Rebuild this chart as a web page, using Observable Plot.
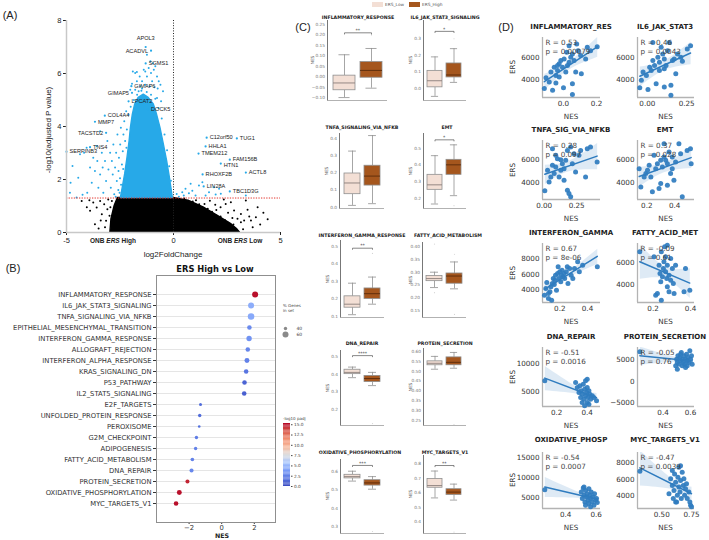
<!DOCTYPE html>
<html>
<head>
<meta charset="utf-8">
<script src="https://cdn.jsdelivr.net/npm/d3@7"></script>
<script src="https://cdn.jsdelivr.net/npm/@observablehq/plot@0.6"></script>
<style>
  html, body { margin: 0; padding: 0; background: #fff; }
  #fig { position: relative; width: 709px; height: 540px; overflow: hidden; background: #fff; font-family: "DejaVu Sans", sans-serif; }
  #fig svg { overflow: visible; }
  .lbl { position: absolute; white-space: nowrap; line-height: 1; }
</style>
</head>
<body>
<div id="fig"></div>
<script>
// ===================== (A) Volcano: ONB ERS High vs Low =====================
const padjCutoff = 0.05;
// upper edge of the dense significant (blue) cloud: [log2FC, -log10 padj]
const sigCoreTop = [[-2.46,1.3],[-2.37,1.69],[-2.26,2.19],[-2.15,2.82],[-2.05,3.45],[-1.99,3.95],[-1.90,4.45],[-1.79,4.83],[-1.63,5.08],[-1.39,5.2],[-1.16,5.08],[-0.92,4.83],[-0.77,4.45],[-0.61,3.95],[-0.45,3.32],[-0.30,2.70],[-0.17,2.07],[-0.08,1.57],[-0.03,1.3]];
// upper edge of the dense non-significant (black) cloud
const nsCoreTop = [[-2.95,0],[-2.9,0.5],[-2.75,1.0],[-2.6,1.3],[0,1.3],[0.7,1.2],[1.4,0.95],[2.05,0.64],[2.68,0.33],[3.0,0.1],[3.1,0]];
const sigScatter = [[-1.90,6.08],[-1.79,6.02],[-1.71,6.06],[-1.58,5.89],[-1.39,6.14],[-1.32,6.08],[-1.24,5.89],[-1.16,6.21],[-1.05,6.02],[-0.92,6.14],[-0.85,6.27],[-0.77,5.89],[-0.69,5.71],[-0.61,5.58],[-0.49,5.33],[-1.00,5.71],[-1.47,5.71],[-1.32,5.58],[-1.11,5.52],[-0.89,5.48],[-0.74,5.43],[-1.71,5.71],[-1.55,5.52],[-1.79,5.39],[-1.94,5.61],[-1.08,6.46],[-0.96,6.39],[-1.24,6.71],[-0.77,5.08],[-0.58,4.95],[-2.02,5.39],[-1.63,5.33],[-1.47,5.43],
  [-4.84,1.50],[-4.81,1.88],[-4.72,2.51],[-4.45,2.07],[-4.37,2.95],[-4.18,3.01],[-4.06,3.20],[-3.90,2.45],[-3.82,1.88],[-3.75,2.82],[-3.67,2.32],[-3.59,3.26],[-3.56,2.70],[-3.51,1.69],[-3.43,2.19],[-3.35,3.01],[-3.31,2.45],[-3.28,1.50],[-3.20,2.70],[-3.15,1.94],[-3.09,3.45],[-3.04,2.38],[-2.96,3.01],[-2.93,1.69],[-2.88,2.70],[-2.84,2.19],[-2.81,3.32],[-2.77,1.44],[-2.73,2.45],[-2.68,3.01],[-2.65,1.94],[-2.62,3.70],[-2.57,2.32],[-2.55,2.82],[-2.52,1.50],[-2.49,3.32],[-2.46,3.95],[-2.41,2.57],[-2.37,3.07],[-2.34,3.70],[-2.30,4.20],[-2.26,3.45],[-2.21,4.58],[-2.18,3.89],[-2.10,4.45],[-3.43,3.82],[-4.03,1.50],[-4.53,1.32],[-4.25,1.42],[-2.58,1.6],[-2.7,1.35],[-2.5,2.05],
  [-2.0,4.75],[-1.85,5.0],[-1.7,5.2],[-1.5,5.35],[-1.25,5.3],[-1.05,5.2],[-0.85,5.05],[-0.7,4.7],[-0.55,4.3],[-0.42,3.7],[-0.3,3.1],[-0.2,2.5],[-0.12,1.95],[-2.2,3.2],[-2.35,2.4],[-2.45,1.8],
  [0.41,1.52],[0.56,1.65],[0.72,1.48],[0.80,1.84],[0.88,1.58],[1.03,1.40],[1.19,1.77],[1.35,1.90],[1.66,1.52],[1.89,1.71],[2.13,1.65],[2.21,1.46],[1.97,1.43],[0.48,1.40],[1.50,1.40],[3.38,1.40],[0.25,1.35],[0.15,1.45]];
const nsScatter = [[-4.29,1.19],[-3.93,1.22],[-3.75,1.13],[-3.59,0.94],[-3.43,1.19],[-3.35,0.69],[-3.24,1.07],[-3.15,0.44],[-3.09,0.88],[-2.99,0.63],[-2.88,1.19],[-2.81,0.19],[-2.73,0.94],[-2.68,0.44],[-2.62,1.22],[-3.90,0.82],[-3.67,0.31],[-4.05,0.95],[-3.5,0.15],[-3.2,0.2],[-3.05,1.25],[-2.95,0.95],[-3.4,0.45],
  [2.83,0.83],[2.99,0.52],[3.15,0.70],[3.30,0.45],[3.46,0.86],[3.54,0.60],[3.38,1.21],[2.68,1.14],[2.44,1.08],[3.62,0.45],[3.15,0.39],[2.52,0.39],[3.85,0.58],[3.93,0.95],[4.2,0.75],[4.05,0.3],[3.7,0.2],[2.9,0.15],[3.25,0.12],[2.2,0.95],[2.55,0.75],[1.95,1.05],[1.7,1.2],[2.35,1.25],[4.4,0.5],[2.75,0.55],
  [0.5,1.28],[0.9,1.17],[1.2,1.07],[1.6,0.9],[1.8,0.78],[2.2,0.6],[2.4,0.47],[2.8,0.3],[1.05,1.22],[1.45,1.08],[2.0,0.85]];
// labelled genes: [gene, log2FC, -log10 padj]
const genesLabelRight = [["SERPINB3",-5.0,3.05],["TNS4",-3.90,3.22],["MMP7",-3.67,4.18],["COL4A4",-3.21,4.41],["LPCAT2",-2.10,4.95],["GIMAP6",-1.97,5.52],["DOCK5",-1.19,4.64],["SGMS1",-1.30,6.38],
  ["C12orf50",1.55,3.58],["TUG1",2.96,3.55],["HHLA1",1.5,3.25],["TMEM212",1.17,2.98],["FAM156B",2.63,2.75],["ACTL8",3.38,2.26],["RHOXF2B",1.36,2.19],["LIN28A",1.41,1.74],["TBC1D3G",2.63,1.55]];
const genesLabelRightLow = [["HTN1",2.21,2.60]];
const genesLabelLeft = [["ACADVL",-1.05,6.86],["GIMAP5",-1.94,5.27],["TACSTD2",-3.15,3.76]];
const genesLabelAbove = [["APOL3",-1.3,7.0]];

// ===================== (B) GSEA hallmark dot plot =====================
const hallmarkSets = ["INFLAMMATORY_RESPONSE","IL6_JAK_STAT3_SIGNALING","TNFA_SIGNALING_VIA_NFKB","EPITHELIAL_MESENCHYMAL_TRANSITION","INTERFERON_GAMMA_RESPONSE","ALLOGRAFT_REJECTION","INTERFERON_ALPHA_RESPONSE","KRAS_SIGNALING_DN","P53_PATHWAY","IL2_STAT5_SIGNALING","E2F_TARGETS","UNFOLDED_PROTEIN_RESPONSE","PEROXISOME","G2M_CHECKPOINT","ADIPOGENESIS","FATTY_ACID_METABOLISM","DNA_REPAIR","PROTEIN_SECRETION","OXIDATIVE_PHOSPHORYLATION","MYC_TARGETS_V1"];
const hallmarkNES = [2.05,1.8,1.8,1.7,1.68,1.6,1.55,1.5,1.4,1.38,-1.3,-1.35,-1.38,-1.55,-1.6,-1.8,-1.85,-2.1,-2.6,-2.8];
const hallmarkLogPadj = [15.0,4.6,4.4,3.0,3.4,2.8,2.6,2.0,1.2,1.0,1.6,1.6,1.8,2.4,2.6,2.6,2.9,14.5,15.0,15.0];
const hallmarkGenePct = [60,60,64,49,55,49,52,49,49,49,37,40,34,40,40,42,45,45,52,49];
const sizeLegendKeys = [40, 60];
const colorbarTicks = [0, 2.5, 5, 7.5, 10, 12.5, 15];

// ===================== (C) NES by ERS group =====================
const boxGroups = ["ERS_Low", "ERS_High"];
const boxSets = ["INFLAMMATORY_RESPONSE","IL6_JAK_STAT3_SIGNALING","TNFA_SIGNALING_VIA_NFKB","EMT","INTERFERON_GAMMA_RESPONSE","FATTY_ACID_METABOLISM","DNA_REPAIR","PROTEIN_SECRETION","OXIDATIVE_PHOSPHORYLATION","MYC_TARGETS_V1"];
// [min whisker, Q1, median, Q3, max whisker]
const boxLow = [[-0.10,-0.065,-0.03,0.005,0.105],[-0.05,0.005,0.045,0.105,0.19],[0.01,0.075,0.14,0.195,0.325],[0.165,0.25,0.28,0.34,0.455],[0.11,0.15,0.17,0.215,0.29],[0.24,0.265,0.275,0.285,0.30],[0.38,0.40,0.41,0.425,0.44],[0.51,0.53,0.54,0.55,0.575],[0.55,0.565,0.575,0.585,0.605],[0.565,0.635,0.65,0.695,0.75]];
const boxHigh = [[-0.055,-0.005,0.03,0.07,0.135],[0.035,0.065,0.08,0.15,0.24],[0.02,0.125,0.18,0.24,0.415],[0.215,0.34,0.40,0.43,0.52],[0.17,0.2,0.23,0.26,0.325],[0.235,0.255,0.285,0.295,0.34],[0.335,0.355,0.375,0.39,0.41],[0.515,0.53,0.545,0.57,0.595],[0.505,0.525,0.54,0.555,0.575],[0.55,0.585,0.605,0.625,0.66]];
const boxOutliersLow = [[],[],[],[],[],[0.41,0.22],[],[],[],[]];
const boxOutliersHigh = [[0.20],[0.30],[],[0.155],[0.46],[0.37,0.135],[0.12],[0.23],[0.27],[0.33]];
const boxSignif = ["**","*","","*","**","","****","","***","**"];
const boxSignifAt = [0.21,0.345,null,0.55,0.49,null,0.505,null,0.637,0.788];
const boxTicks = [[-0.10,-0.05,0,0.05,0.10,0.15,0.20,0.25],[0,0.1,0.2,0.3],[0,0.1,0.2,0.3,0.4],[0.2,0.3,0.4,0.5],[0.1,0.2,0.3,0.4,0.5],[0.15,0.20,0.25,0.30,0.35,0.40],[0.2,0.3,0.4,0.5],[0.25,0.30,0.35,0.40,0.45,0.50,0.55,0.60],[0.3,0.4,0.5,0.6],[0.4,0.5,0.6,0.7,0.8]];

// ===================== (D) ERS score vs NES =====================
const corrTitles = ["INFLAMMATORY_RES","IL6_JAK_STAT3","TNFA_SIG_VIA_NFKB","EMT","INTERFERON_GAMMA","FATTY_ACID_MET","DNA_REPAIR","PROTEIN_SECRETION","OXIDATIVE_PHOSP","MYC_TARGETS_V1"];
const corrR = ["0.53","0.46","0.28","0.37","0.67","-0.09","-0.51","-0.05","-0.54","-0.47"];
const corrP = ["0.00079","0.0043","0.097","0.028","8e-06","0.61","0.0016","0.76","0.0007","0.0039"];
// [NES, ERS]
const ersInflammatory = [[-0.116,3206],[-0.106,4176],[-0.086,3794],[-0.066,3059],[-0.046,3706],[-0.076,4676],[-0.056,5118],[-0.036,4824],[-0.026,5412],[-0.016,5706],[0.004,5853],[-0.006,5118],[0.014,4676],[0.0,3294],[0.024,5265],[0.034,5559],[0.044,6000],[0.054,6294],[0.064,5706],[0.054,3647],[0.054,2676],[0.08,7176],[0.088,6588],[0.104,6147],[0.074,4676],[0.108,4529],[0.134,5853],[0.144,6882],[0.164,6588],[0.204,6941],[-0.046,4382],[-0.026,4235],[0.02,6441],[0.034,7029],[-0.036,5265]];
const ersIL6 = [[-0.048,3294],[-0.038,3941],[-0.027,4676],[-0.006,4382],[0.004,3118],[0.015,5118],[0.025,4824],[0.035,5706],[0.046,5265],[0.056,3647],[0.067,6000],[0.077,5559],[0.077,4824],[0.088,6882],[0.098,6294],[0.108,5853],[0.108,4971],[0.119,5265],[0.129,6588],[0.140,7324],[0.150,3500],[0.160,5706],[0.171,5853],[0.181,4529],[0.192,6294],[0.213,6000],[0.223,5647],[0.254,6735],[0.275,7029],[0.150,2618],[0.035,7324],[0.108,3353]];
const ersTNFA = [[0.005,3235],[0.026,5059],[0.038,4029],[0.051,4471],[0.064,5500],[0.077,4765],[0.089,5353],[0.102,6088],[0.115,4471],[0.128,5059],[0.140,5647],[0.153,5206],[0.166,5941],[0.179,3294],[0.191,3000],[0.204,2706],[0.179,6824],[0.204,7118],[0.230,6529],[0.217,5647],[0.242,4912],[0.268,6382],[0.281,6824],[0.319,4471],[0.332,6971],[0.357,7118],[0.408,5794],[0.089,6382],[0.064,6971],[0.128,6000],[0.153,4176]];
const ersEMT = [[0.145,5206],[0.157,3588],[0.181,4471],[0.193,4765],[0.205,5059],[0.217,5500],[0.229,4471],[0.240,3147],[0.252,6382],[0.264,5206],[0.276,5647],[0.288,3441],[0.300,5941],[0.300,3882],[0.312,5353],[0.324,6235],[0.336,5941],[0.348,5647],[0.360,6676],[0.371,4765],[0.383,5206],[0.395,4176],[0.407,5794],[0.431,7412],[0.443,6529],[0.455,2706],[0.490,6824],[0.514,6971],[0.519,5647],[0.324,7412],[0.348,3735],[0.383,6235]];
const ersIFNG = [[0.089,3368],[0.099,4211],[0.106,4968],[0.118,2947],[0.129,3789],[0.136,4421],[0.146,4842],[0.153,5474],[0.160,4716],[0.165,5263],[0.169,5895],[0.176,4000],[0.184,6105],[0.188,6947],[0.193,5474],[0.200,6316],[0.207,5053],[0.212,5895],[0.216,6526],[0.224,5684],[0.231,6105],[0.235,5474],[0.247,6316],[0.254,6947],[0.259,4842],[0.271,6737],[0.282,5895],[0.294,5474],[0.306,6737],[0.329,7579],[0.341,6316],[0.365,7158],[0.471,6947],[0.118,3579],[0.141,2737]];
const ersFAO = [[0.129,6941],[0.205,6500],[0.214,3118],[0.223,3265],[0.232,5765],[0.237,5029],[0.241,4294],[0.244,2676],[0.250,4735],[0.255,5471],[0.258,6059],[0.262,7382],[0.267,6500],[0.267,5176],[0.273,4588],[0.276,5765],[0.276,3853],[0.285,4882],[0.285,3412],[0.294,6353],[0.294,4441],[0.303,5471],[0.308,4147],[0.312,3265],[0.320,5765],[0.365,3412],[0.373,5471],[0.396,3559],[0.244,6941],[0.276,7529]];
const ersDNA = [[0.122,6988],[0.324,6687],[0.335,5783],[0.346,4880],[0.352,6084],[0.357,3976],[0.361,5181],[0.367,4578],[0.374,6386],[0.378,3675],[0.383,5482],[0.389,6988],[0.389,4277],[0.396,4880],[0.400,3072],[0.400,5783],[0.404,3976],[0.411,5181],[0.411,2771],[0.417,4578],[0.422,3675],[0.433,4277],[0.443,3976],[0.461,3373],[0.400,7289],[0.367,3072],[0.383,2470]];
const ersProtSec = [[0.231,6969],[0.492,3662],[0.499,5236],[0.504,4449],[0.508,6023],[0.516,4056],[0.523,5630],[0.528,4843],[0.533,6811],[0.540,3662],[0.540,5236],[0.547,4449],[0.552,6023],[0.557,4056],[0.564,5236],[0.564,3268],[0.571,6417],[0.576,4843],[0.581,5630],[0.588,4449],[0.595,7204],[0.600,5236],[0.607,6023],[0.612,4056],[0.504,2875],[0.528,6417],[0.576,3662]];
const ersOxphos = [[0.263,7000],[0.502,6417],[0.509,4750],[0.515,7417],[0.520,5583],[0.526,3917],[0.530,6833],[0.537,5167],[0.541,6000],[0.546,4333],[0.552,7250],[0.552,3500],[0.559,5583],[0.563,4750],[0.567,6417],[0.574,3917],[0.580,5167],[0.585,3083],[0.589,6000],[0.596,4333],[0.602,4750],[0.607,3750],[0.530,3083],[0.563,2667],[0.520,7667]];
const ersMYC = [[0.317,7000],[0.561,4280],[0.575,6080],[0.589,5280],[0.597,3680],[0.603,4680],[0.608,6680],[0.617,5680],[0.625,3280],[0.631,4080],[0.636,6280],[0.644,5080],[0.644,7480],[0.653,4480],[0.658,5880],[0.664,3680],[0.672,6880],[0.681,5280],[0.686,6080],[0.692,4080],[0.700,4880],[0.708,5480],[0.714,3680],[0.728,4480],[0.736,3280],[0.742,2880],[0.750,2680],[0.617,3280],[0.589,7080],[0.658,7680]];
const corrYTicks = [[4000,6000],[4000,6000],[4000,6000],[4000,6000],[4000,6000,8000],[4000,6000],[5000,10000],[-5000,0,5000],[5000,10000,15000],[4000,6000,8000]];
const corrXTicks = [[0,0.2],[0,0.25],[0,0.25],[0.2,0.4],[0.2,0.4],[0.2,0.4],[0.2,0.4],[0.4,0.6],[0.4,0.6],[0.5,0.75]];

// ---------------------------------------------------------------------------
const fig = document.getElementById("fig");
function place(node, left, top) {
  node.style.position = "absolute";
  node.style.left = `${left}px`;
  node.style.top = `${top}px`;
  fig.appendChild(node);
}
function label(html, x, y, font, opts = {}) {
  const d = document.createElement("div");
  d.className = "lbl";
  d.innerHTML = html;
  d.style.font = font;
  d.style.color = opts.color || "#222";
  d.style.left = `${x}px`;
  d.style.top = `${y}px`;
  const ax = opts.anchor === "start" ? "0" : opts.anchor === "end" ? "-100%" : "-50%";
  d.style.transform = `translate(${ax},-50%)` + (opts.rotate ? " rotate(-90deg)" : "");
  fig.appendChild(d);
}
const ARIAL = "'Liberation Sans', Arial, sans-serif";
const DJV = "'DejaVu Sans', sans-serif";

// ---------- (A) ----------
const sigBlue = "#27a9e8";
const cut = -Math.log10(padjCutoff);
const geneText = {text: d => d[0], fontSize: 5.6, fill: "#222"};
const volcano = Plot.plot({
  width: 290, height: 262,
  marginLeft: 66, marginRight: 10, marginTop: 20, marginBottom: 30,
  style: {fontFamily: ARIAL, fontSize: "7.5px", color: "#222", background: "transparent", overflow: "visible"},
  x: {domain: [-5, 5], ticks: [-5, 0, 5], tickFormat: d => String(d), tickSize: 3, tickPadding: 2, label: null},
  y: {domain: [0, 8], ticks: [0, 2, 4, 6, 8], tickFormat: d => String(d), tickSize: 3, tickPadding: 2, label: null},
  marks: [
    Plot.areaY(nsCoreTop, {x: d => d[0], y1: 0, y2: d => d[1], fill: "#000", stroke: "#000", strokeWidth: 1.4}),
    Plot.areaY(sigCoreTop, {x: d => d[0], y1: cut, y2: d => d[1], fill: sigBlue, stroke: sigBlue, strokeWidth: 1.4}),
    Plot.dot(nsScatter, {x: d => d[0], y: d => d[1], r: 1, fill: "#000"}),
    Plot.dot(sigScatter, {x: d => d[0], y: d => d[1], r: 1, fill: sigBlue}),
    Plot.dot([...genesLabelRight, ...genesLabelRightLow, ...genesLabelLeft, ...genesLabelAbove], {x: d => d[1], y: d => d[2], r: 1.1, fill: sigBlue}),
    Plot.ruleX([0], {stroke: "#222", strokeDasharray: "1,1.6"}),
    Plot.ruleY([cut], {stroke: "#e2332b", strokeDasharray: "1.3,1.3"}),
    Plot.ruleX([-5], {stroke: "#c8c8c8", strokeWidth: 1.5}),
    Plot.ruleY([0], {stroke: "#c8c8c8", strokeWidth: 1.5}),
    Plot.text(genesLabelRight, {x: d => d[1], y: d => d[2], ...geneText, dx: 3, textAnchor: "start"}),
    Plot.text(genesLabelRightLow, {x: d => d[1], y: d => d[2], ...geneText, dx: 3, dy: 2, textAnchor: "start"}),
    Plot.text(genesLabelLeft, {x: d => d[1], y: d => d[2], ...geneText, dx: -3, textAnchor: "end"}),
    Plot.text(genesLabelAbove, {x: d => d[1], y: d => d[2], ...geneText, dy: -9})
  ]
});
place(volcano, 0, 0);
label("(A)", 10, 15, `11px ${ARIAL}`);
label("-log10(adjusted P value)", 48, 130, `8px ${ARIAL}`, {rotate: true});
label("log2FoldChange", 173, 254, `8px ${ARIAL}`);
label("<b>ONB <i>ERS</i> High</b>", 113, 240, `6.5px ${ARIAL}`);
label("<b>ONB <i>ERS</i> Low</b>", 240, 240, `6.5px ${ARIAL}`);

// ---------- (B) ----------
const hallmarkRows = hallmarkSets.map((name, i) => ({name, nes: hallmarkNES[i], logp: hallmarkLogPadj[i], pct: hallmarkGenePct[i]}));
const coolwarm = ["#3b4cc0","#5673e0","#799cf8","#aac7fd","#dddcdc","#f7b89c","#f18d6f","#d65244","#b40426"];
const padjMax = 15.3;
const colorScale = {type: "linear", domain: coolwarm.map((_, k) => k / (coolwarm.length - 1) * padjMax), range: coolwarm, clamp: true};
const sizeScale = {type: "linear", domain: [40, 60], range: [1.7, 3.0]};
const dotplot = Plot.plot({
  width: 290, height: 278,
  marginLeft: 156, marginRight: 15, marginTop: 13, marginBottom: 18,
  style: {fontFamily: DJV, fontSize: "6.8px", color: "#333", background: "transparent", overflow: "visible"},
  x: {domain: [-4, 3.3], ticks: [-2, 0, 2], tickFormat: d3.format("d"), tickSize: 2, tickPadding: 1, label: null},
  y: {type: "point", domain: hallmarkSets, padding: 1, tickSize: 3, tickPadding: 2, label: null},
  r: sizeScale,
  color: colorScale,
  marks: [
    Plot.ruleY(hallmarkSets, {stroke: "#dedede", strokeWidth: 0.8}),
    Plot.frame({stroke: "#8f8f8f"}),
    Plot.dot(hallmarkRows, {x: "nes", y: "name", r: "pct", fill: "logp"})
  ]
});
place(dotplot, 0, 262);
label("(B)", 13, 268, `11px ${ARIAL}`);
label("<b>ERS High vs Low</b>", 215, 269, `8.3px ${DJV}`, {color: "#111"});
label("<b>NES</b>", 222, 535.2, `6.3px ${DJV}`);

// size legend
label("% Genes", 283, 305, `4px ${DJV}`, {anchor: "start", color: "#444"});
label("in set", 283, 310, `4px ${DJV}`, {anchor: "start", color: "#444"});
const sizeLegend = Plot.plot({
  width: 30, height: 25, marginLeft: 5, marginRight: 5, marginTop: 6, marginBottom: 6,
  style: {fontFamily: DJV, fontSize: "4.5px", color: "#444", background: "transparent", overflow: "visible"},
  x: {domain: [0, 1], axis: null},
  y: {type: "point", domain: sizeLegendKeys, axis: null},
  r: sizeScale,
  marks: [
    Plot.dot(sizeLegendKeys, {x: 0, y: d => d, r: d => d, fill: "#8a8a8a"}),
    Plot.text(sizeLegendKeys, {x: 0, y: d => d, text: d => String(d), dx: 11, textAnchor: "start", fill: "#444"})
  ]
});
place(sizeLegend, 280, 318);

// colour bar
const barSteps = d3.range(0, padjMax, 0.3).map(v => [v, Math.min(v + 0.3, padjMax)]);
const colorbar = Plot.plot({
  width: 32, height: 76, marginLeft: 5, marginRight: 20, marginTop: 8, marginBottom: 5,
  style: {fontFamily: DJV, fontSize: "4.3px", color: "#444", background: "transparent", overflow: "visible"},
  x: {domain: [0, 1], axis: null},
  y: {domain: [0, padjMax], axis: "right", ticks: colorbarTicks, tickFormat: d3.format(".1f"), tickSize: 1.5, tickPadding: 2, label: null},
  color: colorScale,
  marks: [
    Plot.rect(barSteps, {x1: 0, x2: 1, y1: d => d[0], y2: d => d[1], fill: d => (d[0] + d[1]) / 2})
  ]
});
place(colorbar, 278, 415);
label("-log10 padj", 283, 418, `4px ${DJV}`, {anchor: "start", color: "#444"});

// ---------- (C) ----------
const boxFill = {ERS_Low: "#f3dfd5", ERS_High: "#a5561d"};
const boxLine = "#8f8f8f";
const layoutC = [
  {left: 327, right: 387, top: 20, bottom: 100, domain: [-0.114, 0.269], fmt: ".2f", tx: 358, ty: 17, nx: 312},
  {left: 423, right: 466, top: 20, bottom: 100, domain: [-0.075, 0.411], fmt: ".1f", tx: 445, ty: 17, nx: 410},
  {left: 339, right: 384, top: 133, bottom: 208, domain: [-0.008, 0.427], fmt: ".1f", tx: 362, ty: 127, nx: 326},
  {left: 423, right: 466, top: 133, bottom: 208, domain: [0.138, 0.588], fmt: ".1f", tx: 447, ty: 127, nx: 410},
  {left: 340, right: 384, top: 240, bottom: 317, domain: [0.094, 0.534], fmt: ".1f", tx: 362, ty: 235, nx: 327},
  {left: 422, right: 466, top: 242, bottom: 317, domain: [0.123, 0.416], fmt: ".2f", tx: 448, ty: 235, nx: 410},
  {left: 340, right: 384, top: 350, bottom: 425, domain: [0.109, 0.534], fmt: ".1f", tx: 362, ty: 343, nx: 327},
  {left: 423, right: 466, top: 348, bottom: 425, domain: [0.225, 0.615], fmt: ".2f", tx: 445, ty: 343, nx: 410},
  {left: 340, right: 384, top: 459, bottom: 533, domain: [0.259, 0.67], fmt: ".1f", tx: 360, ty: 452, nx: 327},
  {left: 423, right: 466, top: 455, bottom: 533, domain: [0.32, 0.857], fmt: ".1f", tx: 445, ty: 452, nx: 410}
];
boxSets.forEach((name, i) => {
  const L = layoutC[i];
  const stats = [{g: "ERS_Low", s: boxLow[i]}, {g: "ERS_High", s: boxHigh[i]}];
  const outl = [...boxOutliersLow[i].map(v => ({g: "ERS_Low", v})), ...boxOutliersHigh[i].map(v => ({g: "ERS_High", v}))];
  const mL = 22, mR = 2, mT = 2, mB = 2;
  const innerW = L.right - L.left;
  const step = innerW / (2 - 0.2 + 2 * 0.2);
  const span = L.domain[1] - L.domain[0];
  const marks = [
    Plot.ruleY([L.domain[0]], {stroke: "#a9a9a9", strokeWidth: 0.9}),
    Plot.ruleX(stats, {x: "g", y1: d => d.s[0], y2: d => d.s[1], stroke: boxLine, strokeWidth: 0.8}),
    Plot.ruleX(stats, {x: "g", y1: d => d.s[3], y2: d => d.s[4], stroke: boxLine, strokeWidth: 0.8}),
    Plot.tickY(stats, {x: "g", y: d => d.s[0], stroke: boxLine, strokeWidth: 0.8, insetLeft: step * 0.2, insetRight: step * 0.2}),
    Plot.tickY(stats, {x: "g", y: d => d.s[4], stroke: boxLine, strokeWidth: 0.8, insetLeft: step * 0.2, insetRight: step * 0.2}),
    Plot.barY(stats, {x: "g", y1: d => d.s[1], y2: d => d.s[3], fill: d => boxFill[d.g], stroke: boxLine, strokeWidth: 0.8}),
    Plot.tickY(stats, {x: "g", y: d => d.s[2], stroke: d => d.g === "ERS_High" ? "#5a2a0a" : "#8a7e7a", strokeWidth: 0.9}),
    Plot.dot(outl, {x: "g", y: "v", r: 0.6, fill: "#d4d4d4"})
  ];
  if (boxSignif[i]) {
    const at = boxSignifAt[i], drop = span * 0.015;
    marks.push(
      Plot.line([{g: "ERS_Low", y: at - drop}, {g: "ERS_Low", y: at}, {g: "ERS_High", y: at}, {g: "ERS_High", y: at - drop}],
        {x: "g", y: "y", stroke: "#555", strokeWidth: 0.7}),
      Plot.text([{g: "ERS_High", y: at, t: boxSignif[i]}],
        {x: "g", y: "y", text: "t", dx: -step / 2, dy: -0.8, lineAnchor: "bottom", fontSize: 4.6, fill: "#333"})
    );
  }
  const svg = Plot.plot({
    width: innerW + mL + mR, height: L.bottom - L.top + mT + mB,
    marginLeft: mL, marginRight: mR, marginTop: mT, marginBottom: mB,
    style: {fontFamily: DJV, fontSize: "4.3px", color: "#777", background: "transparent", overflow: "visible"},
    color: {type: "identity"},
    x: {type: "band", domain: boxGroups, paddingInner: 0.2, paddingOuter: 0.2, axis: null},
    y: {domain: L.domain, ticks: boxTicks[i], tickFormat: d3.format(L.fmt), tickSize: 0, tickPadding: 2.5, line: true, label: null},
    marks
  });
  place(svg, L.left - mL, L.top - mT);
  label(`<b>${name}</b>`, L.tx, L.ty, `4.7px ${DJV}`, {color: "#222"});
  label("NES", L.nx, (L.top + L.bottom) / 2, `4.3px ${DJV}`, {rotate: true, color: "#555"});
});
label("(C)", 303, 27, `11px ${ARIAL}`);
// group legend
const legendC = [["ERS_Low", 372], ["ERS_High", 409]];
legendC.forEach(([g, x]) => {
  const sw = document.createElement("div");
  Object.assign(sw.style, {position: "absolute", left: `${x}px`, top: "1.5px", width: "11px", height: "5px", background: boxFill[g]});
  fig.appendChild(sw);
  label(g, x + 13, 4.2, `4.3px ${DJV}`, {anchor: "start", color: "#555"});
});

// ---------- (D) ----------
const corrSets = [ersInflammatory, ersIL6, ersTNFA, ersEMT, ersIFNG, ersFAO, ersDNA, ersProtSec, ersOxphos, ersMYC];
const colL = {left: 542, right: 600, cx: 571}, colR = {left: 637, right: 694, cx: 665};
const rowsD = [{top: 37, bottom: 97, ty: 27}, {top: 140, bottom: 199, ty: 130}, {top: 243, bottom: 302, ty: 233}, {top: 347, bottom: 406, ty: 337}, {top: 452, bottom: 508, ty: 440}];
const domainsD = [
  {x: [-0.127, 0.224], y: [2415, 7760], xf: ".1f"},
  {x: [-0.0625, 0.30], y: [2415, 7760], xf: ".2f"},
  {x: [-0.013, 0.434], y: [2470, 7700], xf: ".2f"},
  {x: [0.133, 0.543], y: [2470, 7700], xf: ".1f"},
  {x: [0.075, 0.494], y: [2442, 9895], xf: ".1f"},
  {x: [0.117, 0.421], y: [2471, 7676], xf: ".1f"},
  {x: [0.107, 0.487], y: [2349, 13012], xf: ".1f"},
  {x: [0.214, 0.629], y: [-5945, 7992], xf: ".1f"},
  {x: [0.248, 0.628], y: [2250, 16417], xf: ".1f"},
  {x: [0.297, 0.775], y: [2480, 9280], xf: ".2f"}
];
const ersBlue = "#2f7cbf";
corrSets.forEach((pts, i) => {
  const col = i % 2 === 0 ? colL : colR;
  const row = rowsD[Math.floor(i / 2)];
  const D = domainsD[i];
  const mL = 30, mR = 4, mT = 4, mB = 14;
  const svg = Plot.plot({
    width: col.right - col.left + mL + mR, height: row.bottom - row.top + mT + mB,
    marginLeft: mL, marginRight: mR, marginTop: mT, marginBottom: mB,
    style: {fontFamily: DJV, fontSize: "7.2px", color: "#333", background: "transparent", overflow: "visible"},
    x: {domain: D.x, ticks: corrXTicks[i], tickFormat: d3.format(D.xf), tickSize: 0, tickPadding: 3, label: null},
    y: {domain: D.y, ticks: corrYTicks[i], tickFormat: d3.format("d"), tickSize: 0, tickPadding: 3, label: null},
    marks: [
      Plot.ruleX([D.x[0]], {stroke: "#b3b3b3", strokeWidth: 1.3}),
      Plot.ruleY([D.y[0]], {stroke: "#b3b3b3", strokeWidth: 1.3}),
      Plot.dot(pts, {x: d => d[0], y: d => d[1], r: 2.5, fill: ersBlue, fillOpacity: 0.92}),
      Plot.linearRegressionY(pts, {x: d => d[0], y: d => d[1], stroke: ersBlue, fill: ersBlue, fillOpacity: 0.16, strokeWidth: 1.5, clip: true}),
      Plot.text([`R = ${corrR[i]}\np = ${corrP[i]}`], {text: d => d, frameAnchor: "top-left", dx: 3, dy: 1.5, lineAnchor: "top", textAnchor: "start", lineHeight: 1.22, fontSize: 7.2, fill: "#444"})
    ]
  });
  place(svg, col.left - mL, row.top - mT);
  label(`<b>${corrTitles[i]}</b>`, col.cx, row.ty, `7px ${DJV}`, {color: "#222"});
  label("NES", (col.left + col.right) / 2, row.bottom + 18.5, `7.2px ${DJV}`, {color: "#333"});
  if (i % 2 === 0) label("ERS", 512, (row.top + row.bottom) / 2, `7.2px ${DJV}`, {rotate: true, color: "#333"});
});
label("(D)", 506, 27, `11px ${ARIAL}`);
</script>
</body>
</html>
